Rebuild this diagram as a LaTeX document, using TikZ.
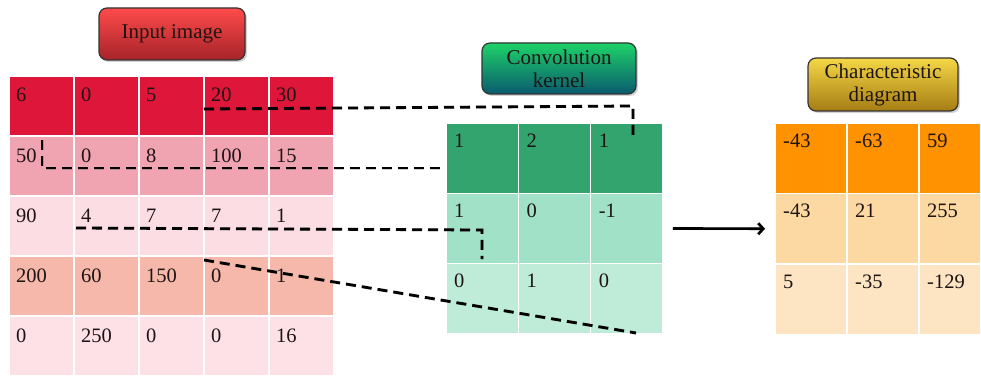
\documentclass[tikz,border=0pt]{standalone}
\usepackage{fontspec}
\setmainfont{Liberation Serif}
\usetikzlibrary{shadows,arrows.meta}
\definecolor{inA}{RGB}{221,22,58}
\definecolor{inB}{RGB}{240,164,178}
\definecolor{inC}{RGB}{252,221,227}
\definecolor{inD}{RGB}{245,184,170}
\definecolor{inE}{RGB}{253,225,230}
\definecolor{kA}{RGB}{52,164,111}
\definecolor{kB}{RGB}{160,225,200}
\definecolor{kC}{RGB}{190,236,216}
\definecolor{fA}{RGB}{255,146,0}
\definecolor{fB}{RGB}{252,216,162}
\definecolor{fC}{RGB}{253,228,194}
\definecolor{txt}{RGB}{30,20,20}
\tikzset{
  cellbox/.style={draw=white, line width=1.5pt, inner sep=0pt, outer sep=0pt, anchor=north west},
  celltext/.style={inner sep=0pt, anchor=base west, text=txt, font=\fontsize{20.5}{24}\selectfont},
  titlebox/.style={draw=black!80, line width=1.2pt, rounded corners=8pt, align=center,
    text=txt, font=\fontsize{21}{23}\selectfont, inner sep=2pt,
    drop shadow={shadow xshift=2pt, shadow yshift=-2pt, opacity=0.35}},
  dashline/.style={draw=black, line width=2.8pt, dash pattern=on 10pt off 6pt},
  dashshadow/.style={draw=black, opacity=0.18, line width=3pt, dash pattern=on 10pt off 6pt, shift={(1.5,1.5)}},
  arrowline/.style={draw=black, line width=2.6pt, -{Straight Barb[length=5pt,width=11pt]}},
  arrowshadow/.style={draw=black, opacity=0.2, line width=3pt, -{Straight Barb[length=5pt,width=11pt]}, shift={(1.5,2)}}
}
\begin{document}
\begin{tikzpicture}[x=1pt,y=-1pt]
\useasboundingbox (0,0) rectangle (981,377);
% input image table
\foreach \r/\col/\vals in {1/inA/{6,0,5,20,30},2/inB/{50,0,8,100,15},3/inC/{90,4,7,7,1},4/inD/{200,60,150,0,1},5/inE/{0,250,0,0,16}}{
  \foreach \v [count=\c] in \vals {
    \node[cellbox, fill=\col, minimum width=65pt, minimum height=60pt] (in-\r-\c) at ({9+65*(\c-1)},{76+60*(\r-1)}) {};
    \node[celltext] (in-\r-\c-t) at ([xshift=7pt,yshift=-26pt]in-\r-\c.north west) {\v};
  }
}
% kernel table
\foreach \r/\col/\vals in {1/kA/{1,2,1},2/kB/{1,0,-1},3/kC/{0,1,0}}{
  \foreach \v [count=\c] in \vals {
    \node[cellbox, fill=\col, minimum width=72.3pt, minimum height=70.3pt] (k-\r-\c) at ({446+72.3*(\c-1)},{123+70.3*(\r-1)}) {};
    \node[celltext] (k-\r-\c-t) at ([xshift=8pt,yshift=-24pt]k-\r-\c.north west) {\v};
  }
}
% feature table
\foreach \r/\col/\vals in {1/fA/{-43,-63,59},2/fB/{-43,21,255},3/fC/{5,-35,-129}}{
  \foreach \v [count=\c] in \vals {
    \node[cellbox, fill=\col, minimum width={\c==3 ? 62 : 72}, minimum height=70.5pt] (f-\r-\c) at ({775+72*(\c-1)},{123+70.5*(\r-1)}) {};
    \node[celltext] (f-\r-\c-t) at ([xshift=8pt,yshift=-24pt]f-\r-\c.north west) {\v};
  }
}
% titles
\node[titlebox, top color={rgb,255:red,255;green,75;blue,75}, bottom color={rgb,255:red,165;green,35;blue,40},
  minimum width=146pt, minimum height=52pt] (t-in) at (172,34) {Input image};
\node[titlebox, top color={rgb,255:red,30;green,210;blue,105}, bottom color={rgb,255:red,10;green,90;blue,110},
  minimum width=154pt, minimum height=51pt] (t-k) at (559,68.5) {Convolution\\kernel};
\node[titlebox, top color={rgb,255:red,245;green,215;blue,70}, bottom color={rgb,255:red,165;green,125;blue,20},
  minimum width=150pt, minimum height=53pt] (t-f) at (883,84.5) {Characteristic\\diagram};
% dashed guide lines
\coordinate (d1a) at (204,109);
\coordinate (d1b) at (633,106);
\coordinate (d1c) at (633,140);
\coordinate (d2a) at (42,140);
\coordinate (d2b) at (42,168);
\coordinate (d2c) at (446,168);
\coordinate (d3a) at (76,228);
\coordinate (d3b) at (482,230);
\coordinate (d3c) at (482,259);
\coordinate (d4a) at (204,260);
\coordinate (d4b) at (636,333);
\foreach \sty in {dashshadow,dashline}{
  \draw[\sty] (d1a) -- (d1b) -- (d1c);
  \draw[\sty] (d2a) -- (d2b) -- (d2c);
  \draw[\sty] (d3a) -- (d3b) -- (d3c);
  \draw[\sty] (d4a) -- (d4b);
}
% arrow
\draw[arrowshadow] ([xshift=10pt]k-2-3.east) -- ([xshift=-10pt]f-2-1.west);
\draw[arrowline] ([xshift=10pt]k-2-3.east) -- ([xshift=-10pt]f-2-1.west);
\end{tikzpicture}
\end{document}
